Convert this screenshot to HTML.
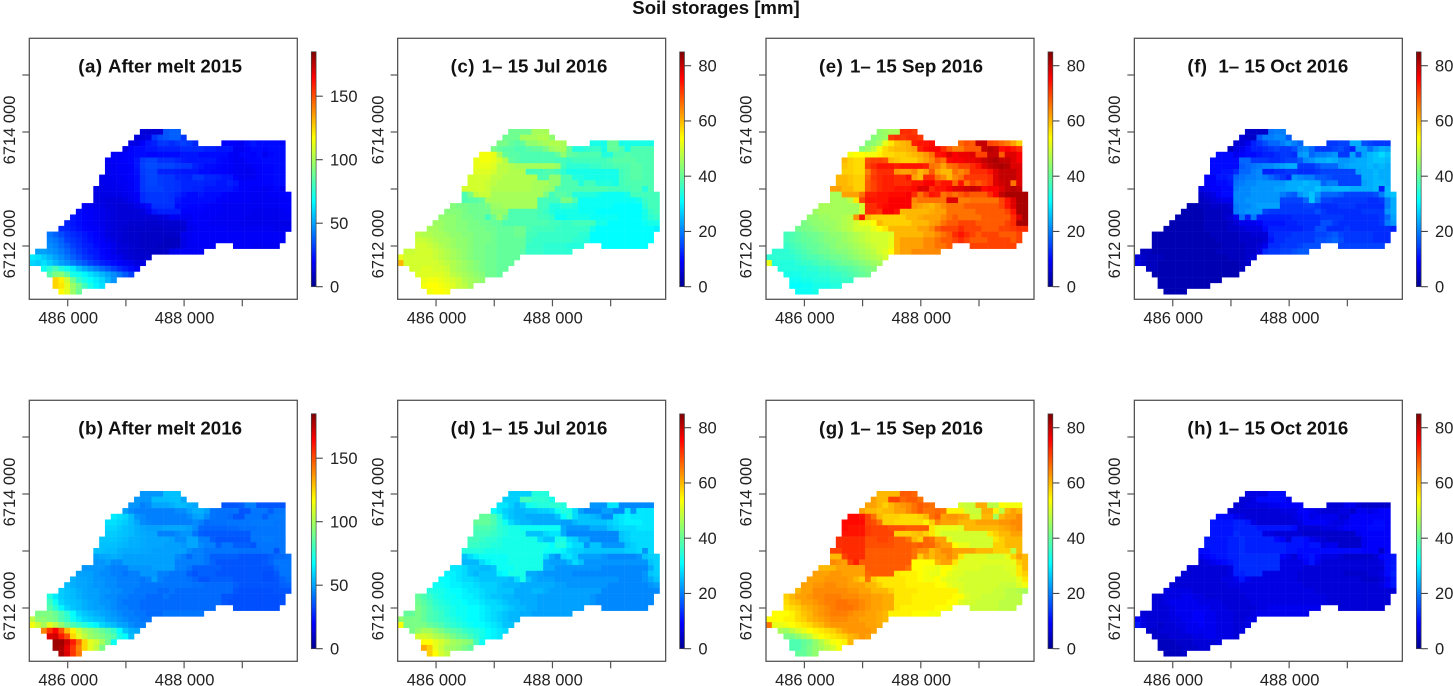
<!DOCTYPE html>
<html lang="en">
<head>
<meta charset="utf-8">
<title>Soil storages [mm]</title>
<style>
html,body{margin:0;padding:0;background:#fff;width:1453px;height:686px;overflow:hidden}
svg{display:block;font-family:"Liberation Sans",sans-serif}
text{fill:#222}
.tick{font-size:16.5px}
.ptitle{font-size:18.7px;font-weight:bold;fill:#111}
</style>
</head>
<body>
<svg id="chart" xmlns="http://www.w3.org/2000/svg" width="1453" height="686" viewBox="0 0 1453 686">
<text x="716" y="14" text-anchor="middle" font-size="18.6" font-weight="bold" style="fill:#111">Soil storages [mm]</text>
</svg>
<script>
const xTicks = [486000, 487000, 488000, 489000];
const xTickLabels = ["486 000", "", "488 000", ""];
const yTicks = [6712000, 6713000, 6714000, 6715000];
const yTickLabels = ["6712 000", "", "6714 000", ""];
const meltBarTicks = [0, 50, 100, 150];
const seasonBarTicks = [0, 20, 40, 60, 80];
const meltBarMax = 185;
const seasonBarMax = 85;
const panelTags = ["(a)", "(b)", "(c)", "(d)", "(e)", "(g)", "(f)", "(h)"];
const panelTitles = ["After melt 2015", "After melt 2016", "1– 15 Jul 2016", "1– 15 Jul 2016", "1– 15 Sep 2016", "1– 15 Sep 2016", "1– 15 Oct 2016", "1– 15 Oct 2016"];
/* Grid of 100 m cells: first occupied column index of every row */
const rowFirstColumn = [19,18,17,16,14,13,13,13,12,12,11,11,11,9,8,7,6,5,3,3,3,1,0,0,2,3,4,4,5];

const storageA = [
[14,13,13,13,36,38,38],
[14,14,16,30,34,36,38,38,30],
[16,16,20,24,26,30,30,28,30,32,30,27,20,20,19,18,22,24,22,22,22,22,21],
[16,20,22,22,24,24,26,26,26,26,28,28,28,28,26,26,24,24,24,18,18,20,22,22,21,22,22,22],
[19,19,20,21,22,22,21,21,22,22,22,22,24,24,24,22,22,22,22,22,20,18,21,21,20,22,18,21,22,22],
[19,19,19,20,21,24,31,33,33,29,29,29,27,25,24,24,24,24,24,22,21,20,18,18,21,21,21,22,22,22,22],
[18,18,19,19,20,24,32,34,34,33,33,33,31,30,30,26,24,22,22,21,20,20,18,18,18,19,20,21,21,22,22],
[18,18,19,19,20,23,31,33,33,26,26,26,25,24,24,24,22,22,21,21,20,19,18,18,17,18,20,21,21,22,22],
[17,17,18,18,19,20,22,30,33,33,31,30,30,27,27,26,30,30,27,27,26,24,24,20,18,18,18,20,21,21,22,22],
[17,17,17,18,18,19,22,30,33,33,31,30,30,29,27,27,27,27,26,26,24,24,26,24,20,20,20,20,21,21,22,22],
[16,16,17,17,17,18,19,22,30,32,32,32,30,30,29,27,27,26,26,24,24,24,24,24,22,20,20,19,19,18,19,21,18],
[16,16,16,16,16,17,18,19,28,30,30,30,30,29,27,24,22,22,24,22,22,22,20,19,19,19,19,18,18,18,19,19,20,21],
[15,15,14,14,14,15,17,19,28,30,30,30,30,29,24,22,22,22,22,22,22,20,19,19,19,19,19,18,18,18,18,18,19,20],
[19,18,17,16,14,14,13,13,14,16,18,22,29,29,29,29,22,22,21,21,21,20,19,19,18,18,18,18,18,18,18,18,18,18,20,20],
[22,20,19,18,17,15,14,13,13,13,13,14,18,24,26,26,26,26,20,20,20,20,19,19,19,18,18,18,18,18,17,17,17,17,17,18,19],
[24,22,20,19,18,17,15,14,13,13,13,13,13,13,13,14,15,18,18,18,18,20,19,19,19,18,18,18,18,18,17,17,17,17,17,17,18,18],
[26,24,22,20,19,18,17,15,14,13,13,12,12,12,11,11,12,12,12,12,13,18,19,19,19,18,18,18,18,18,17,17,17,17,17,17,17,16,16],
[28,27,25,23,21,20,19,18,15,14,13,12,11,11,11,11,10,10,11,11,11,12,17,18,19,19,19,19,19,18,18,18,18,18,18,18,18,17,17,17],
[42,38,34,30,28,26,24,22,20,18,15,14,13,12,11,11,10,10,10,10,10,10,11,17,18,19,19,19,19,19,19,19,19,19,19,19,19,19,19,19,19],
[44,42,38,32,30,28,25,23,21,19,17,15,13,12,11,11,10,10,10,10,9,9,9,16,18,19,19,19,19,19,19,19,19,19,19,19,19,19,19,19,19],
[46,44,40,36,32,29,26,25,22,20,19,17,14,13,12,11,10,10,10,9,9,9,10,16,18,18,19,19,19,19,19,19,18,18,18,18,18],
[50,50,48,46,43,39,35,31,28,25,24,21,19,17,14,13,12,11,11,10,10,10,11,17,18,19,19,19,19],
[64,62,58,54,50,46,42,38,34,30,28,25,22,20,18,17,14,13,12,11,12],
[60,58,62,58,54,50,47,43,39,36,32,29,26,24,22,20,18,17,14,15],
[70,76,82,74,70,64,57,52,48,44,40,36,32,28,25,22,19],
[84,92,94,86,72,70,66,62,58,54,50,46,42,37,32],
[125,120,108,90,78,72,68,64,60,54,48],
[125,122,112,98,90,80,72,66,62],
[118,112,98,88]
];

const storageB = [
[48,48,48,48,56,56,56],
[48,48,48,55,55,55,56,56,51],
[48,48,44,46,51,51,51,53,55,55,53,51,36,36,36,38,44,44,36,36,36,36,36],
[50,46,44,44,44,44,44,44,44,46,46,50,53,53,50,42,41,41,41,42,36,36,42,42,42,38,42,42],
[64,62,60,55,48,46,44,44,44,44,44,44,44,46,50,51,46,42,41,41,40,36,36,42,42,42,38,42,43,43],
[62,62,60,58,55,51,46,45,44,44,44,44,44,44,44,46,44,40,41,41,41,42,42,42,42,43,43,43,43,42,42],
[60,60,58,56,55,53,51,50,50,50,51,51,51,51,50,46,40,39,39,39,39,40,40,41,41,41,42,42,42,42,42],
[58,58,57,56,55,53,52,51,51,44,44,44,46,48,48,42,38,37,37,37,37,37,37,37,37,42,42,42,42,42,42],
[57,57,57,56,55,53,53,52,51,51,51,51,50,46,46,51,51,44,44,38,36,36,36,36,36,36,42,42,43,43,42,42],
[56,56,56,55,54,53,53,52,51,51,51,50,50,50,48,51,51,46,44,44,38,42,42,38,38,38,36,42,42,42,42,42],
[56,56,55,55,53,52,52,52,51,51,50,50,50,50,50,50,46,44,44,42,42,42,42,42,42,41,41,41,41,42,42,36,42],
[50,51,52,53,52,50,50,50,50,50,50,50,50,50,46,44,40,44,44,42,38,38,38,38,38,36,36,36,36,36,38,40,40,41],
[48,48,50,46,46,50,50,50,50,50,50,50,50,50,44,44,44,44,44,42,39,36,36,36,36,36,36,36,36,37,39,42,42,42],
[48,48,48,48,46,44,44,44,48,48,48,48,50,50,50,50,44,44,42,38,38,38,38,38,36,36,36,36,36,36,36,36,36,40,42,42],
[50,50,50,48,46,46,44,44,42,44,44,48,48,48,44,44,42,42,42,38,36,38,38,38,36,36,36,36,36,36,36,36,35,35,37,42,42],
[53,51,51,50,48,48,46,46,44,44,44,44,42,44,50,44,42,42,42,42,41,39,36,36,38,38,38,38,36,36,36,36,36,35,35,36,39,41],
[55,53,51,51,50,48,48,46,46,44,44,44,44,42,42,42,42,42,42,42,42,42,41,41,40,40,40,40,40,38,36,36,36,36,36,36,36,38,39],
[58,56,55,53,51,50,50,48,48,46,46,44,44,42,42,42,42,40,40,42,40,40,40,40,40,40,40,40,40,40,36,35,35,35,35,35,35,36,36,36],
[74,64,58,56,55,53,51,50,50,48,46,46,44,44,42,42,42,40,40,40,42,40,40,40,40,40,40,40,40,40,36,36,35,35,35,35,35,35,35,35,35],
[80,70,60,57,56,55,53,51,50,48,48,46,44,42,42,42,40,40,40,40,40,40,40,40,40,40,40,40,40,40,36,35,35,35,35,35,35,35,35,35,35],
[84,76,66,60,57,55,53,51,50,50,48,46,44,44,42,42,40,40,40,40,40,40,40,40,40,40,40,40,40,35,35,35,35,35,35,35,35],
[92,92,92,88,82,76,68,60,57,55,53,51,50,48,46,44,44,42,42,40,40,40,42,42,42,42,42,42,42],
[105,95,95,92,90,82,78,70,64,60,58,56,55,51,50,48,46,44,44,42,42],
[115,108,100,112,105,96,88,82,78,74,70,66,60,57,55,51,50,46,44,44],
[140,155,165,150,130,120,108,100,96,92,88,84,78,68,57,53,51],
[170,172,160,150,125,112,105,98,95,92,88,84,72,68,55],
[180,180,172,160,145,125,112,108,100,90,70],
[180,178,168,155,140,125,112,105,92],
[178,170,155,142]
];

const storageC = [
[41,41,41,41,46,46,46],
[41,41,41,46,46,46,47,47,44],
[42,42,40,39,40,44,44,45,46,47,47,46,33,33,33,40,40,33,33,33,33,33,33],
[42,40,39,39,38,38,39,40,40,42,45,46,46,40,34,34,35,36,36,33,40,40,38,33,38,38,38,38],
[53,53,52,46,40,39,39,38,38,38,38,38,38,40,44,40,39,38,38,38,38,34,34,38,38,39,38,38,38,38],
[52,53,53,52,50,47,40,39,38,38,38,38,38,38,37,37,36,37,37,37,37,37,37,38,39,39,39,39,38,38,38],
[52,52,52,51,48,48,47,46,46,46,46,46,46,46,45,37,35,35,35,35,36,36,37,37,38,38,38,39,39,38,38],
[51,51,51,50,48,48,47,47,47,37,37,37,38,38,37,35,33,33,33,33,33,33,33,33,33,37,38,39,39,38,38],
[50,50,50,50,48,48,47,47,47,47,47,47,38,38,44,44,38,38,34,34,33,33,33,33,33,33,37,38,39,39,38,38],
[50,50,50,49,48,47,47,47,47,47,47,46,46,46,44,44,38,38,38,34,37,37,34,34,34,33,37,38,38,38,38,38],
[50,50,50,50,49,47,47,47,47,47,47,47,46,46,45,44,38,38,38,38,38,38,38,38,38,37,37,37,37,38,38,34,38],
[38,42,48,49,49,46,46,46,46,46,46,46,46,46,42,37,39,39,38,34,34,34,34,33,32,32,32,32,33,37,37,37,37,37],
[38,39,39,40,46,46,46,46,46,46,46,46,46,37,37,37,37,42,42,38,32,32,32,32,32,32,32,32,32,32,33,36,37,37],
[43,42,42,41,41,41,42,45,45,46,46,46,46,46,46,37,37,34,34,35,35,34,32,32,32,32,32,32,31,31,31,31,31,35,37,37],
[43,43,43,42,41,41,41,41,44,44,44,38,38,38,38,38,37,36,34,33,33,33,33,32,32,32,31,31,31,31,31,31,31,31,33,36,37],
[44,44,44,43,42,42,41,41,37,41,45,41,38,38,38,38,38,37,37,36,32,32,33,33,33,33,32,32,32,32,32,31,31,31,31,33,35,36],
[45,45,44,44,43,43,42,42,41,41,40,40,38,38,38,38,38,38,38,38,37,37,36,36,37,37,37,37,33,33,31,31,31,31,31,31,32,33,33],
[46,46,45,44,44,43,43,42,42,42,41,41,40,40,40,41,41,38,37,37,37,37,36,36,36,36,36,36,33,31,31,31,31,31,31,31,31,31,31,30],
[48,47,47,46,46,45,44,44,43,43,42,42,42,41,40,40,40,41,41,37,37,36,36,36,36,36,36,36,35,35,31,31,31,31,31,31,31,31,31,31,31],
[49,49,48,47,46,46,45,44,44,43,42,42,42,41,40,40,40,40,40,37,36,36,36,36,36,36,36,35,35,34,31,31,31,31,31,31,31,31,31,31,31],
[50,50,49,48,47,46,45,44,44,43,42,42,41,41,40,40,40,40,40,36,36,36,35,35,35,35,34,34,34,31,31,31,31,31,31,31,31],
[49,49,50,50,50,49,48,47,46,45,44,43,42,42,41,41,40,40,40,40,39,36,36,36,35,35,35,35,35],
[52,50,50,50,50,50,49,48,47,46,45,44,43,42,42,41,41,40,40,40,40],
[60,50,50,50,50,50,50,49,48,47,46,45,44,43,42,41,41,40,40,40],
[50,50,51,51,50,50,49,47,46,45,44,43,42,41,41,40,40],
[51,51,51,51,51,50,48,47,46,45,44,43,41,41,40],
[52,53,53,52,51,50,49,47,46,45,44],
[53,54,54,53,52,51,49,48,46],
[53,54,54,53]
];

const storageD = [
[27,27,27,27,34,34,34],
[27,27,27,37,37,35,35,35,33],
[29,29,27,25,27,32,33,34,34,35,35,34,22,22,22,29,29,21,21,21,21,21,21],
[31,29,27,26,25,25,26,26,27,27,28,32,34,33,28,23,21,21,21,23,23,21,21,29,22,29,29,29],
[40,40,38,34,28,26,25,25,24,24,24,24,24,26,31,34,28,26,26,25,24,21,21,28,29,30,29,29,29,29],
[40,40,40,38,35,32,28,26,25,25,24,24,24,24,24,23,23,25,26,26,26,26,26,27,28,29,30,30,30,29,29],
[38,38,38,37,35,34,33,33,32,32,32,32,32,32,32,24,22,22,22,22,24,24,24,26,27,28,28,28,29,29,29],
[37,37,37,36,35,34,33,33,33,26,26,26,28,29,29,24,21,21,21,21,21,21,21,21,21,26,27,28,28,28,28],
[37,37,36,35,35,34,33,33,33,33,33,33,28,26,26,33,33,28,27,24,24,21,21,21,21,21,26,27,28,28,28,28],
[36,36,35,35,34,34,33,33,33,33,33,33,33,33,31,34,34,30,28,28,22,26,26,22,22,22,22,26,27,28,28,28],
[34,34,34,34,33,33,33,33,33,33,33,33,33,33,32,32,32,30,28,27,27,26,26,26,26,26,26,26,27,27,28,22,28],
[26,28,30,32,32,32,32,32,33,33,33,33,33,33,28,24,22,28,29,27,23,23,23,23,22,21,21,21,21,21,22,26,27,27],
[25,25,25,28,30,32,32,32,33,33,33,33,33,33,24,23,23,23,25,28,26,22,22,22,22,22,22,22,22,22,22,22,26,27],
[29,29,28,26,26,25,25,26,32,32,32,33,33,33,33,33,24,24,22,22,22,22,22,22,22,22,21,21,21,21,21,21,21,21,24,27],
[30,30,29,28,26,25,26,26,26,30,31,33,33,33,24,24,23,22,22,22,22,22,21,21,21,21,21,21,21,21,21,21,21,21,22,26,27],
[31,31,30,29,28,28,27,26,26,26,26,26,25,28,33,26,24,23,23,23,22,22,22,22,22,22,22,22,22,22,22,21,21,21,21,22,24,26],
[32,32,31,30,30,29,29,28,27,27,27,26,25,25,25,24,24,24,24,24,24,23,23,22,22,22,22,22,22,22,21,21,21,21,21,21,21,22,23],
[34,33,33,32,31,31,30,29,29,28,27,27,26,26,26,24,24,24,25,25,24,23,23,23,23,23,23,23,23,23,21,21,21,21,21,21,21,21,21,21],
[40,38,36,34,33,32,32,31,30,30,29,28,27,26,26,25,25,24,24,24,24,23,23,23,23,23,23,23,23,23,22,21,21,21,21,21,21,21,21,21,21],
[41,39,37,35,34,33,32,32,31,30,30,29,28,28,27,26,25,25,24,24,24,23,23,23,23,23,23,23,23,23,22,21,21,21,21,21,21,21,21,21,21],
[42,40,38,36,35,34,33,32,32,31,31,30,29,28,28,27,26,25,25,24,24,23,23,23,23,23,23,23,23,21,21,21,21,21,21,21,21],
[40,40,42,40,38,37,36,34,33,32,32,31,31,30,29,28,27,26,25,25,24,24,23,23,23,23,23,23,23],
[44,42,42,42,40,38,37,36,35,34,33,32,31,31,30,29,28,27,26,25,25],
[54,42,42,42,42,40,39,38,36,35,34,33,32,31,31,30,29,28,26,26],
[42,44,46,46,44,42,40,39,38,36,35,34,33,31,30,29,28],
[50,50,49,47,46,44,42,40,39,37,35,33,31,30,29],
[54,54,52,50,48,46,45,44,43,37,32],
[61,58,52,49,46,45,44,42,40],
[58,54,50,48]
];

const storageE = [
[44,45,46,46,72,72,71],
[43,44,45,71,72,71,72,72,71],
[43,44,46,52,56,59,60,61,73,74,74,75,67,69,68,80,80,70,69,67,65,62,58],
[43,45,48,53,57,59,60,60,61,62,73,75,76,76,72,68,65,65,68,68,68,80,81,80,75,76,74,72],
[53,54,54,53,53,55,57,57,58,58,59,60,61,63,66,74,75,78,76,77,77,78,70,70,80,80,68,78,78,76],
[60,58,57,57,69,70,70,69,60,59,58,58,58,60,62,64,68,66,75,76,76,77,77,78,80,81,82,80,80,78,76],
[59,58,57,57,70,72,74,74,74,73,74,74,74,74,73,66,65,62,66,67,70,70,72,74,78,80,81,82,81,78,78],
[58,58,57,57,65,70,72,72,72,63,62,62,64,60,62,68,62,60,60,66,64,66,72,72,72,74,78,80,80,80,78],
[60,60,59,58,58,67,71,72,73,73,72,72,74,62,60,72,72,66,64,60,64,66,71,71,71,71,72,78,80,80,80,78],
[60,60,59,58,58,68,70,72,73,73,72,72,72,74,74,76,76,72,74,74,67,74,66,70,68,70,72,78,79,80,66,78],
[62,62,60,60,58,58,68,70,72,73,73,74,74,74,75,78,78,72,74,74,76,78,78,79,80,79,75,76,76,78,80,81,80],
[46,46,62,62,62,66,73,73,74,74,75,75,75,76,72,66,70,74,73,66,68,66,68,70,68,68,68,72,76,80,82,82,82,82],
[46,46,46,48,56,70,74,74,74,74,76,76,76,76,64,66,66,66,66,66,78,78,65,65,66,66,66,66,66,70,74,78,82,82],
[46,46,46,46,46,46,46,50,72,72,74,75,76,76,76,76,63,62,61,60,62,64,66,66,66,68,68,68,68,68,68,70,74,78,82,82],
[45,46,46,46,46,46,46,46,50,72,72,71,76,76,74,60,60,60,60,60,61,62,62,66,66,66,66,66,68,68,68,68,68,70,74,82,82],
[44,44,45,45,46,46,47,48,63,74,60,58,58,58,58,58,58,60,60,61,62,62,62,64,66,68,66,66,66,66,68,68,68,68,68,72,78,82],
[42,43,44,44,45,45,46,47,48,50,52,52,54,60,58,58,58,58,58,60,60,60,62,63,66,68,68,70,70,70,68,68,68,68,68,70,72,82,82],
[41,42,42,43,44,44,45,46,47,48,50,50,50,52,54,56,60,60,60,60,60,62,62,64,68,70,70,70,72,70,70,70,68,68,68,70,70,71,72,72],
[37,38,39,40,41,41,42,43,44,44,45,46,47,48,49,50,50,50,51,60,60,60,60,60,62,62,64,66,68,72,74,72,70,68,70,70,70,68,68,68,70],
[37,38,39,40,40,41,42,43,43,44,45,46,47,48,49,50,50,50,52,60,62,62,62,62,64,64,66,68,68,70,72,70,68,68,68,70,70,70,70,68,70],
[36,37,38,39,40,40,41,42,43,44,44,45,46,47,48,49,50,50,52,60,62,62,62,62,64,64,66,66,68,70,70,70,70,70,70,70,70],
[35,35,35,36,37,38,39,40,41,41,42,43,43,44,45,46,47,48,50,51,54,60,62,62,64,64,64,64,64],
[35,35,35,35,35,36,37,38,38,39,40,41,41,42,43,44,45,46,47,48,50],
[52,34,34,34,34,35,36,36,37,38,38,39,40,41,41,42,43,44,45,46],
[34,34,34,34,34,35,35,36,36,37,38,38,39,40,41,42,43],
[33,33,33,34,34,34,35,35,36,36,37,38,39,40,41],
[32,32,33,33,34,34,34,35,35,36,36],
[31,31,32,32,33,33,33,34,34],
[32,32,32,33]
];

const storageG = [
[60,60,60,60,68,68,67],
[62,60,60,70,70,67,68,68,66],
[62,62,60,58,60,62,63,64,66,68,67,66,50,49,49,61,61,48,48,54,53,53,53],
[62,60,60,59,60,60,62,62,64,66,68,66,66,67,66,55,55,55,50,49,49,61,61,55,48,60,62,60],
[75,75,74,70,66,60,58,58,58,57,57,57,58,60,66,68,62,63,63,62,61,50,50,60,60,46,60,62,62,64],
[75,75,75,75,70,69,66,58,58,57,57,57,57,57,55,58,64,62,62,62,60,60,60,62,62,62,62,63,63,64,64],
[75,74,74,74,71,70,70,70,69,69,69,68,68,68,68,56,52,52,52,52,51,60,60,60,60,60,60,61,62,63,64],
[74,74,74,74,71,70,70,70,70,58,58,58,59,60,58,56,52,50,50,50,50,50,50,50,50,56,58,60,60,62,62],
[72,72,72,72,72,69,69,70,70,69,68,68,66,60,58,67,66,62,62,52,50,50,50,50,50,50,50,56,58,60,60,60],
[72,72,72,72,72,69,69,69,69,69,68,68,68,67,68,67,67,64,62,62,54,52,52,50,50,50,50,58,58,60,60,60],
[70,70,72,72,72,72,68,68,68,68,68,68,68,68,66,64,64,60,62,64,64,62,62,62,62,60,60,60,58,58,58,48,60],
[60,60,70,72,72,72,68,68,68,68,68,68,68,68,66,58,62,60,62,62,64,62,56,51,51,51,51,50,50,50,52,58,62,60],
[64,63,62,70,73,68,68,68,68,68,68,68,68,68,54,54,54,54,60,62,62,56,51,51,51,51,51,51,51,51,51,52,58,60],
[60,60,60,62,62,62,62,62,68,68,68,68,68,68,68,66,54,54,53,53,52,54,54,52,51,51,51,51,50,50,50,50,51,51,56,60],
[62,62,62,63,63,62,62,62,62,67,68,68,68,68,56,55,55,55,54,53,52,52,54,52,51,51,50,50,50,50,50,50,50,50,51,56,58],
[62,62,62,63,63,63,63,62,60,58,66,58,56,56,56,56,56,55,55,54,53,53,54,52,51,51,50,50,50,50,50,50,50,50,50,50,52,56],
[62,62,63,63,64,64,63,63,62,62,62,60,60,58,56,56,56,56,55,55,55,55,55,54,54,52,51,51,50,50,50,50,50,50,49,49,49,51,53],
[60,62,62,64,64,64,64,64,64,63,63,62,62,60,60,60,58,56,56,56,56,55,55,55,55,55,55,55,51,50,50,50,50,50,49,49,48,48,47,46],
[58,60,62,62,63,64,64,65,65,65,64,64,64,63,63,62,62,61,61,56,56,56,55,55,55,55,55,55,55,54,54,51,50,50,49,49,49,49,48,48,48],
[57,59,60,62,62,63,64,65,65,66,66,65,65,64,63,62,62,61,61,56,56,56,55,55,55,55,55,55,54,54,51,50,50,49,49,49,49,48,48,48,48],
[56,57,58,60,61,62,63,64,65,66,66,66,65,64,63,62,62,61,61,56,55,55,55,55,55,55,54,54,53,49,49,49,49,49,48,48,48],
[54,54,54,55,57,59,60,62,63,64,65,65,65,64,63,63,62,62,61,60,55,55,55,55,54,54,54,53,53],
[54,54,54,55,55,57,58,60,61,62,63,64,64,64,63,63,62,62,62,61,60],
[66,52,52,53,54,55,56,57,59,60,62,63,63,63,63,63,63,62,62,61],
[46,45,48,50,52,54,55,56,57,58,60,62,63,63,63,63,62],
[42,42,44,46,48,52,54,55,56,57,58,60,61,63,62],
[38,38,40,41,44,47,50,53,54,55,60],
[38,38,40,42,44,46,48,50,53],
[40,40,42,44]
];

const storageF = [
[5,5,5,5,19,20,20],
[6,5,5,17,20,20,21,21,17],
[6,6,8,12,14,16,18,18,20,22,20,18,14,14,15,15,24,24,16,15,14,14,14],
[4,7,8,10,12,12,13,14,15,14,14,16,20,21,18,14,14,14,15,16,14,12,23,23,19,22,24,23],
[10,10,10,8,9,10,10,11,12,12,13,14,14,13,22,23,18,20,20,21,22,14,14,23,16,23,25,26,28,26],
[10,10,10,10,10,18,18,14,14,14,13,13,14,15,15,17,21,22,24,24,25,24,22,22,23,24,24,25,26,26,25],
[10,10,10,10,10,17,18,19,20,21,21,22,23,24,24,14,14,14,16,18,18,18,22,23,24,24,24,25,24,25,24],
[10,10,11,11,13,18,18,20,21,12,12,13,13,14,14,13,13,13,14,15,15,15,15,15,15,23,24,24,25,24,24],
[9,9,11,11,12,18,19,20,20,21,20,18,16,14,12,22,21,20,20,17,17,16,15,15,15,15,15,24,24,25,24,24],
[9,9,10,10,11,19,20,21,21,22,22,22,22,22,24,24,24,25,24,24,18,20,20,15,15,15,15,23,24,25,25,24],
[7,8,9,9,10,10,20,21,21,22,22,22,22,23,23,24,24,25,24,24,26,24,24,25,25,25,24,24,24,24,25,12,25],
[5,6,7,9,10,10,21,21,21,22,22,22,22,22,20,18,17,22,24,26,22,18,18,18,17,15,15,15,15,15,16,20,25,26],
[4,5,6,7,8,8,21,21,22,22,22,22,22,22,15,15,15,15,18,26,20,15,15,14,14,14,14,14,14,13,13,14,20,24],
[3,3,4,4,5,5,5,6,20,21,21,22,23,23,23,23,14,14,14,14,15,15,14,13,13,13,14,14,14,13,13,13,13,13,20,24],
[3,3,3,3,4,4,4,5,5,20,21,22,22,22,15,14,14,14,14,14,14,14,14,16,14,13,13,13,13,13,13,14,14,14,14,22,24],
[3,3,3,3,3,4,4,4,5,6,8,19,12,20,12,12,12,12,12,12,13,13,13,13,13,14,14,14,14,13,13,13,13,13,13,14,18,23],
[3,3,3,3,3,3,4,4,4,4,5,6,8,8,8,9,11,11,11,11,12,12,13,13,13,13,16,16,14,13,13,13,13,13,13,13,14,20,22],
[3,3,3,3,3,3,3,4,4,4,4,5,5,6,7,7,7,10,12,12,12,12,12,12,13,13,16,16,13,13,13,14,13,13,13,13,13,13,13,12],
[3,3,3,3,3,3,3,3,3,3,4,4,4,4,4,5,5,6,6,6,12,13,13,13,14,14,14,14,15,15,16,17,15,14,14,14,14,14,13,13,13],
[3,3,3,3,3,3,3,3,3,3,3,4,4,4,4,5,5,5,5,6,11,13,13,14,14,14,14,14,16,16,17,18,16,14,14,14,14,14,13,13,13],
[3,3,3,3,3,3,3,3,3,3,3,3,4,4,4,4,5,5,6,8,13,13,14,14,14,15,16,16,16,15,15,15,15,15,15,15,15],
[4,4,3,3,3,3,3,3,3,3,3,3,3,4,4,4,4,4,5,5,7,13,14,14,15,15,16,17,17],
[6,5,4,4,4,3,3,3,3,3,3,3,3,3,3,3,4,4,4,5,6],
[8,5,4,4,3,3,3,3,3,3,3,3,3,3,3,3,3,3,4,5],
[4,4,3,3,3,3,3,3,3,3,3,3,3,3,3,3,4],
[3,3,3,3,3,3,3,3,3,3,3,3,3,3,3],
[3,3,3,3,3,3,3,3,3,3,3],
[3,3,3,3,3,3,3,3,3],
[3,3,3,3]
];

const storageH = [
[7,7,7,7,10,10,10],
[6,6,7,10,10,10,10,10,8],
[6,6,7,7,7,7,8,8,9,9,9,9,6,6,6,8,8,6,5,5,5,5,5],
[6,6,6,6,6,6,6,6,6,7,7,7,9,9,8,7,6,6,6,7,7,5,8,8,7,8,9,9],
[10,10,10,8,7,6,6,6,6,6,6,6,6,7,8,9,7,8,8,8,8,6,6,9,9,9,9,9,9,9],
[11,11,11,11,12,12,11,7,6,6,6,6,6,6,6,7,9,9,9,9,8,7,7,8,9,9,9,9,10,10,9],
[11,11,11,11,12,12,12,12,11,11,11,11,11,11,10,6,6,6,6,7,7,7,8,9,9,9,9,10,10,10,9],
[11,11,11,11,13,12,12,12,12,7,7,6,6,6,6,6,5,5,5,5,5,5,5,5,5,8,9,9,9,9,9],
[11,11,11,11,12,12,13,12,12,12,12,12,10,9,6,11,11,10,8,7,6,5,5,5,5,5,5,8,9,9,9,9],
[11,11,11,11,12,12,13,12,12,12,12,12,12,12,11,11,11,10,11,11,7,8,8,5,5,5,5,8,9,9,9,9],
[10,10,11,11,11,12,12,13,12,12,12,12,12,12,12,11,11,10,10,10,10,10,10,10,10,10,10,10,9,9,9,5,9],
[8,9,10,11,11,12,12,13,13,13,13,13,13,13,9,8,6,9,10,11,9,7,7,7,6,5,5,5,5,5,6,9,10,11],
[6,7,8,9,10,11,12,13,13,13,13,13,13,13,7,7,7,7,9,11,8,6,6,6,6,6,6,6,6,6,6,7,10,11],
[6,6,6,6,6,6,6,7,12,13,13,13,13,13,13,13,7,7,7,7,6,6,6,6,6,6,6,6,6,6,6,6,6,6,10,11],
[6,6,6,6,6,6,6,6,7,12,12,13,13,13,7,7,7,7,7,7,6,6,6,6,6,6,6,6,5,5,5,5,6,6,7,10,12],
[6,6,6,6,6,6,6,6,7,7,8,11,8,7,7,7,7,7,7,7,7,6,6,6,6,6,6,6,6,6,6,6,5,5,5,6,8,11],
[6,6,6,6,6,6,6,6,6,6,7,7,7,7,7,7,7,7,7,7,7,7,7,6,6,6,6,6,6,6,6,6,6,6,6,6,7,9,11],
[7,7,7,7,7,6,6,6,6,6,6,6,6,7,7,7,7,7,7,7,7,7,7,7,7,7,6,6,6,6,6,6,6,6,6,6,6,6,6,6],
[6,6,7,7,7,8,8,7,7,6,6,6,6,6,6,6,7,7,7,7,7,7,7,7,7,7,7,7,7,7,6,6,6,6,6,6,6,6,6,6,6],
[6,6,7,8,8,8,8,8,7,7,7,7,6,6,6,6,6,7,7,7,7,7,7,7,7,7,7,7,7,7,6,6,6,6,6,6,6,6,6,6,6],
[6,6,6,7,8,8,8,8,8,8,7,7,7,6,6,6,6,6,7,7,8,8,8,8,8,8,8,8,8,6,6,6,6,6,6,6,6],
[6,6,6,6,6,7,8,8,8,9,9,8,8,7,7,7,6,6,6,7,8,8,8,8,8,8,8,8,8],
[9,7,6,6,6,6,7,7,8,8,9,9,8,8,7,7,7,6,6,7,7],
[11,7,6,6,5,6,6,7,7,8,8,9,8,8,7,7,7,6,6,7],
[5,5,6,6,6,6,7,8,8,8,8,8,7,7,7,6,7],
[5,5,5,6,6,6,6,7,7,8,8,7,7,7,6],
[4,4,4,5,5,5,6,6,6,6,7],
[4,4,4,4,5,5,5,6,6],
[4,4,4,5]
];

const panelValues = [storageA, storageB, storageC, storageD, storageE, storageG, storageF, storageH];

const SVG_NS = "http://www.w3.org/2000/svg";
const svg = document.getElementById("chart");
const PLOT_W = 268, PLOT_H = 261;
const PANEL_DX = 368.35, PANEL_DY = 362;
const LEFT0 = 29.3, TOP0 = 38.3;
const GRID_E0 = 485340, GRID_N0 = 6714053, CELL_M = 100;
const PX_PER_M_X = 0.0582, PX_PER_M_Y = 0.057;

function xScale(panelLeft, easting) { return panelLeft + 38.4 + (easting - 486000) * PX_PER_M_X; }
function yScale(panelTop, northing) { return panelTop + 93.7 + (6714000 - northing) * PX_PER_M_Y; }
function barScale(panelTop, value) { return panelTop + 248.4 - value * 2.7625; }
function meltBarScale(panelTop, value) { return panelTop + 248.4 - value * 1.27; }

const colorStops = [[0,0,0,143],[0.11,0,0,255],[0.365,0,255,255],[0.5,127,255,127],[0.635,255,255,0],[0.89,255,0,0],[1,128,0,0]];
function jet(t) {
  t = Math.max(0, Math.min(1, t));
  for (let i = 1; i < colorStops.length; i++) {
    const a = colorStops[i - 1], b = colorStops[i];
    if (t <= b[0]) {
      const f = (t - a[0]) / (b[0] - a[0]);
      return "rgb(" + Math.round(a[1] + f * (b[1] - a[1])) + "," + Math.round(a[2] + f * (b[2] - a[2])) + "," + Math.round(a[3] + f * (b[3] - a[3])) + ")";
    }
  }
  return "rgb(128,0,0)";
}
function node(parent, tag, attrs) {
  const el = document.createElementNS(SVG_NS, tag);
  for (const k in attrs) el.setAttribute(k, attrs[k]);
  parent.appendChild(el);
  return el;
}
function gridGap(rowIndex, cellIndex) {
  if (rowIndex === 2 && cellIndex >= 12) return 4;
  if (rowIndex === 20 && cellIndex >= 29) return 3;
  return 0;
}

panelValues.forEach(function (rows, p) {
  const colIdx = Math.floor(p / 2), rowIdx = p % 2;
  const left = LEFT0 + colIdx * PANEL_DX, top = TOP0 + rowIdx * PANEL_DY;
  const maxVal = colIdx === 0 ? meltBarMax : seasonBarMax;
  const g = node(svg, "g", {});
  
  

  rows.forEach(function (vals, r) {
    vals.forEach(function (v, i) {
      const col = rowFirstColumn[r] + i + gridGap(r, i);
      const e = GRID_E0 + col * CELL_M, n = GRID_N0 - r * CELL_M;
      const x = xScale(left, e), y = yScale(top, n);
      const cell = node(g, "rect", { x: x.toFixed(2), y: y.toFixed(2), width: (CELL_M * PX_PER_M_X + 0.25).toFixed(2), height: (CELL_M * PX_PER_M_Y + 0.25).toFixed(2), fill: jet(v / maxVal) });
      
      
    });
  });

  const box = node(g, "rect", { x: left, y: top, width: PLOT_W, height: PLOT_H, fill: "none", stroke: "#555", "stroke-width": 1.3 });
  
  

  xTicks.forEach(function (tv, i) {
    const x = xScale(left, tv);
    const t = node(g, "line", { x1: x, x2: x, y1: top + PLOT_H, y2: top + PLOT_H + 7, stroke: "#555", "stroke-width": 1.2 });
    
    
    if (xTickLabels[i]) {
      const lab = node(g, "text", { x: x + 0.5, y: top + 285, "text-anchor": "middle", "class": "tick" });
      lab.textContent = xTickLabels[i];
      
      
    }
  });
  yTicks.forEach(function (tv, i) {
    const y = yScale(top, tv);
    const t = node(g, "line", { x1: left - 7, x2: left, y1: y, y2: y, stroke: "#555", "stroke-width": 1.2 });
    
    
    if (yTickLabels[i]) {
      const bx = left - 14.3, by = y - 2;
      const lab = node(g, "text", { x: bx, y: by, "text-anchor": "middle", "class": "tick", transform: "rotate(-90 " + bx + " " + by + ")" });
      lab.textContent = yTickLabels[i];
      
      
    }
  });

  const tag = node(g, "text", { x: left + (colIdx === 0 ? 49 : 53), y: top + 34.4, "class": "ptitle", "letter-spacing": "0.5" });
  tag.textContent = panelTags[p];
  
  
  const title = node(g, "text", { x: left + (colIdx === 0 ? 78.7 : 84), y: top + 34.4, "class": "ptitle" });
  title.textContent = panelTitles[p];
  
  

  /* colour bar */
  const barX = left + 282;
  const bar = node(g, "g", {});
  
  
  const scale = colIdx === 0 ? meltBarScale : barScale;
  const steps = 120;
  for (let s = 0; s < steps; s++) {
    const v0 = maxVal * s / steps, v1 = maxVal * (s + 1) / steps;
    const y0 = scale(top, v1), y1 = scale(top, v0);
    const seg = node(bar, "rect", { x: barX, y: y0.toFixed(2), width: 4.8, height: (y1 - y0 + 0.3).toFixed(2), fill: jet((v0 + v1) / 2 / maxVal) });
    
    
  }
  const barFrame = node(bar, "rect", { x: barX, y: scale(top, maxVal), width: 4.8, height: scale(top, 0) - scale(top, maxVal), fill: "none", stroke: "#444", "stroke-width": 0.7 });
  
  
  (colIdx === 0 ? meltBarTicks : seasonBarTicks).forEach(function (tv) {
    const y = scale(top, tv);
    const t = node(bar, "line", { x1: barX + 4.8, x2: barX + 11.5, y1: y, y2: y, stroke: "#444", "stroke-width": 1.1 });
    
    
    const lab = node(bar, "text", { x: barX + 18.7, y: y + 5.7, "class": "tick" });
    lab.textContent = String(tv);
    
    
  });
});
</script>
</body>
</html>
